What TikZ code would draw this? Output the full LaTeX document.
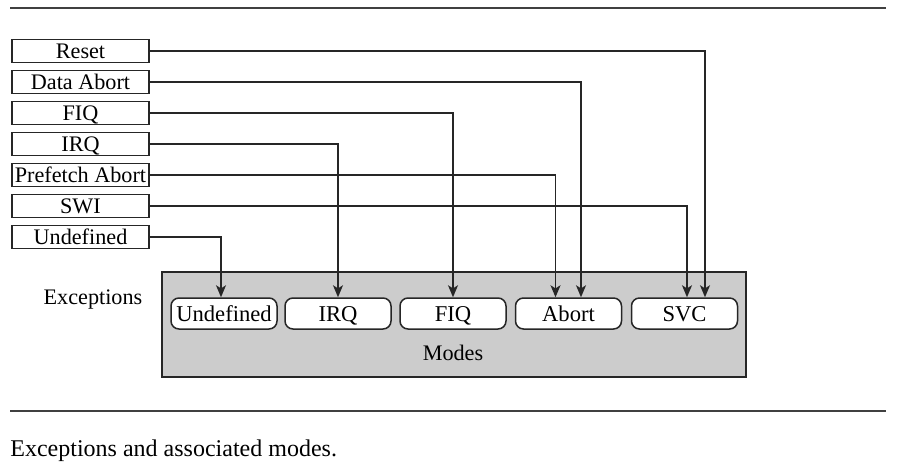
\documentclass[tikz,border=0pt]{standalone}
\usepackage{fontspec}
\setmainfont{Liberation Serif}
\usetikzlibrary{arrows.meta}
\begin{document}
\begin{tikzpicture}[x=0.5pt,y=-0.5pt,
  exc/.style={draw=black!85, line width=0.75pt, rectangle, minimum width=68.5pt, minimum height=11.5pt, inner sep=0pt, text height=7.2pt, text depth=0pt, font=\fontsize{11.1}{12}\selectfont},
  modebox/.style={draw=black!85, line width=0.75pt, fill=white, rounded corners=4pt, minimum height=15.5pt, minimum width=53pt, inner sep=0pt, text height=7.5pt, text depth=0pt, font=\fontsize{11.3}{12}\selectfont},
  conn/.style={draw=black!85, line width=0.75pt, -{Stealth[length=6pt,width=5pt,inset=1.6pt]}},
  rulel/.style={line width=0.6pt, draw=black!75},
  lbl/.style={inner sep=0pt, font=\fontsize{11.1}{12}\selectfont}]
\useasboundingbox (0,0) rectangle (900,466);
\draw[rulel] (10,8) -- (886,8);
\draw[rulel] (10,411) -- (886,411);
% exceptions
\node[exc] (reset) at (80.5,51) {Reset};
\node[exc] (dabort) at (80.5,82) {Data Abort};
\node[exc] (fiq) at (80.5,113) {FIQ};
\node[exc] (irq) at (80.5,144) {IRQ};
\node[exc] (pabort) at (80.5,175) {Prefetch Abort};
\node[exc] (swi) at (80.5,206) {SWI};
\node[exc] (undef) at (80.5,237) {Undefined};
% modes container
\node[draw=black!85, line width=0.75pt, fill=black!20, minimum width=292pt, minimum height=52.5pt, inner sep=0pt] (modes) at (454,324.5) {};
\node[lbl] (modeslbl) at (453,353) {Modes};
\node[lbl] (exclbl) at (93,300) {Exceptions};
\node[modebox, minimum width=53pt] (mund) at (224,313.5) {Undefined};
\node[modebox] (mirq) at (338,313.5) {IRQ};
\node[modebox] (mfiq) at (453,313.5) {FIQ};
\node[modebox] (mabt) at (568.5,313.5) {Abort};
\node[modebox] (msvc) at (684.5,313.5) {SVC};
% connectors
\draw[conn] (reset.east) -| ([xshift=10.25pt]msvc.north);
\draw[conn] (dabort.east) -| ([xshift=6.25pt]mabt.north);
\draw[conn] (fiq.east) -| (mfiq.north);
\draw[conn] (irq.east) -| (mirq.north);
\draw[conn] (pabort.east) -| ([xshift=-6.5pt]mabt.north);
\draw[conn] (swi.east) -| ([xshift=1.25pt]msvc.north);
\draw[conn] (undef.east) -| ([xshift=-1.5pt]mund.north);
% caption
\node[anchor=base west, inner sep=0pt, font=\fontsize{12}{14}\selectfont] (cap) at (10,456) {Exceptions and associated modes.};
\end{tikzpicture}
\end{document}
